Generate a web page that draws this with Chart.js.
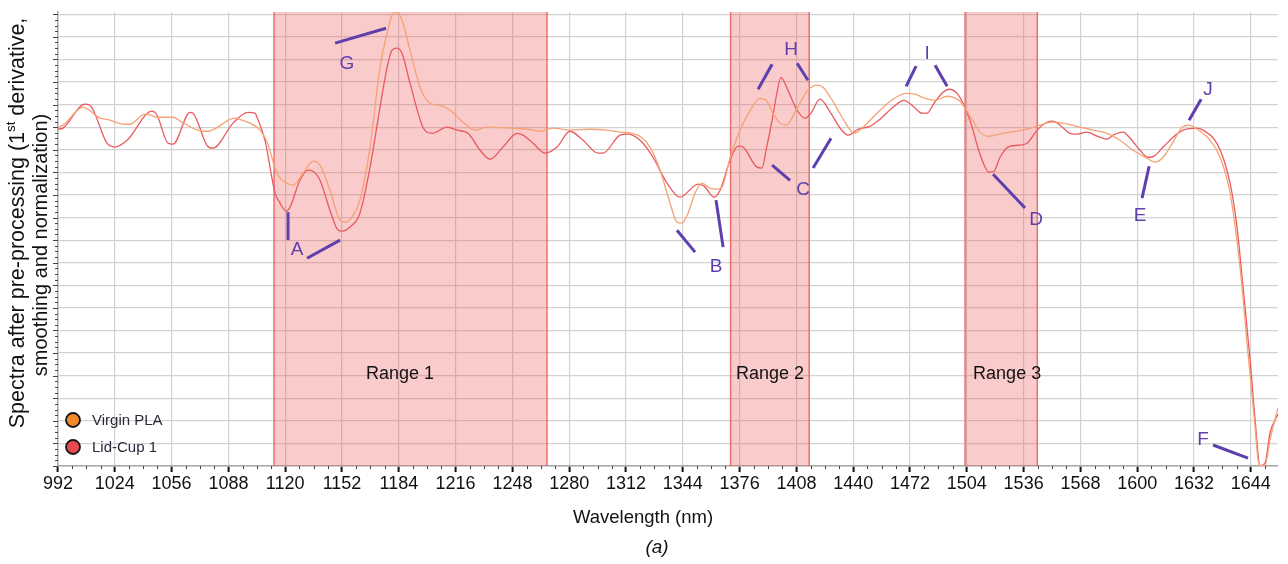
<!DOCTYPE html>
<html><head><meta charset="utf-8">
<script src="https://cdn.jsdelivr.net/npm/chart.js@4.4.1/dist/chart.umd.min.js"></script>
<style>html,body{margin:0;padding:0;background:#fff}#wrap{width:1288px;height:564px;position:relative}</style>
</head><body><div id="wrap"><canvas id="c" width="1288" height="564"></canvas></div>
<script>
// ---- data (wavelength in nm, signal in arbitrary grid units) ----
const xTickValues = [992,1024,1056,1088,1120,1152,1184,1216,1248,1280,1312,1344,1376,1408,1440,1472,1504,1536,1568,1600,1632,1664];
const xTickLabels = ['992','1024','1056','1088','1120','1152','1184','1216','1248','1280','1312','1344','1376','1408','1440','1472','1504','1536','1568','1600','1632','1644'];

const seriesNames = ['Virgin PLA','Lid-Cup 1'];

const virginX = [992,994.8,1006.1,1015.7,1019.6,1029.7,1032.6,1039.3,1042.1,1047.8,1056.8,1061.9,1073.7,1076.5,1088.9,1091.7,1095.7,1105.8,1109.8,1115.4,1121.0,1124.4,1130.0,1135.7,1139.6,1145.2,1150.9,1153.7,1157.6,1162.1,1167.8,1173.4,1177.4,1180.2,1183.0,1186.4,1190.3,1196.0,1201.6,1207.2,1212.9,1220.2,1226.9,1233.7,1246.7,1256.2,1263.6,1270.9,1280.4,1291.7,1301.3,1308.6,1315.4,1319.9,1325.5,1331.2,1336.8,1340.7,1343.6,1346.9,1350.9,1354.8,1359.3,1363.3,1366.1,1370.6,1376.2,1383.0,1387.5,1390.9,1394.8,1398.8,1402.2,1408.9,1414.5,1419.6,1423.0,1429.8,1435.4,1440.5,1446.1,1453.4,1462.4,1469.8,1474.8,1480.5,1486.1,1492.9,1496.2,1500.2,1505.8,1511.5,1516.0,1524.4,1537.9,1545.2,1552.0,1558.2,1567.8,1575.1,1583.0,1590.3,1597.6,1605.5,1610.0,1614.6,1620.2,1625.3,1629.2,1633.7,1641.0,1646.7,1652.3,1657.9,1662.4,1666.4,1668.6,1672.0,1674.8,1679.3];
const virginY = [15.00,15.09,15.88,15.40,15.35,15.13,15.13,15.53,15.58,15.44,15.44,15.22,14.82,14.82,15.35,15.40,15.31,14.87,14.34,12.96,12.52,12.43,12.96,13.50,13.32,12.21,10.88,10.80,11.02,11.77,14.12,17.65,19.16,19.96,20.10,19.60,18.41,16.77,16.06,15.97,15.75,15.22,14.87,15.00,14.96,14.91,14.82,14.96,14.87,14.91,14.87,14.78,14.73,14.60,14.12,13.10,11.64,10.80,10.75,11.19,12.08,12.52,12.30,12.26,12.35,13.63,14.87,15.88,16.28,16.19,15.62,15.18,15.09,15.93,16.64,16.86,16.77,15.97,15.22,14.73,15.04,15.62,16.24,16.50,16.46,16.28,16.19,16.37,16.33,16.15,15.49,14.78,14.60,14.73,14.91,15.09,15.22,15.18,15.00,14.87,14.73,14.42,13.98,13.63,13.45,13.67,14.34,15.00,15.09,14.91,14.42,13.67,12.08,8.81,5.00,1.73,0.02,0.04,1.15,2.57];

const lidX = [992,994.8,1007.2,1010.0,1019.6,1024.1,1030.9,1045.0,1047.8,1054.0,1056.8,1066.4,1068.1,1075.9,1079.3,1090.6,1099.0,1103.0,1104.1,1108.6,1114.3,1117.1,1120.5,1122.7,1128.3,1132.9,1135.7,1139.6,1145.2,1149.8,1152.0,1156.5,1162.1,1167.8,1173.4,1177.4,1180.2,1183.0,1185.8,1190.3,1197.6,1202.7,1211.2,1216.8,1223.0,1229.8,1235.4,1242.7,1250.6,1254.0,1259.6,1266.4,1273.1,1280.4,1287.8,1296.2,1299.1,1308.6,1312.6,1319.9,1327.2,1335.1,1342.4,1352.6,1356.0,1361.6,1365.0,1370.6,1375.1,1377.9,1385.8,1388.6,1390.9,1394.3,1397.1,1399.3,1402.7,1408.4,1412.9,1416.2,1421.3,1426.4,1432.6,1437.1,1442.7,1449.5,1455.1,1462.4,1468.6,1473.7,1478.8,1481.6,1485.5,1490.6,1494.0,1498.5,1502.4,1507.0,1510.3,1514.3,1516.5,1519.3,1522.7,1527.2,1532.8,1537.9,1543.6,1549.2,1552.6,1556.5,1562.1,1566.1,1571.7,1577.4,1583.0,1586.4,1592.0,1596.0,1601.6,1606.1,1609.5,1614.6,1620.2,1625.8,1633.7,1637.1,1643.8,1648.3,1652.3,1656.2,1659.6,1663.6,1666.4,1669.2,1672.0,1674.8,1679.3];
const lidY = [14.91,14.96,16.02,15.97,14.29,14.12,14.42,15.71,15.53,14.29,14.25,15.66,15.62,14.20,14.07,15.18,15.66,15.62,15.44,14.42,12.08,11.64,11.28,11.46,12.65,13.10,13.05,12.65,11.33,10.44,10.40,10.58,11.19,13.23,15.88,17.65,18.41,18.50,18.27,16.95,15.00,14.73,15.00,14.87,14.73,13.98,13.58,14.12,14.73,14.65,14.29,13.85,14.12,14.82,14.42,13.85,13.85,14.65,14.69,14.42,13.67,12.52,11.90,12.48,12.39,11.90,12.21,13.54,14.16,14.12,13.23,13.19,13.98,15.31,16.55,17.21,16.73,15.75,15.40,15.62,16.24,15.75,14.96,14.65,14.91,15.04,15.35,15.88,16.19,15.93,15.62,15.62,16.06,16.55,16.68,16.50,15.97,15.00,14.07,13.23,13.01,13.05,13.67,14.12,14.20,14.29,14.87,15.22,15.27,15.09,14.73,14.69,14.78,14.60,14.47,14.65,14.78,14.51,13.98,13.67,13.72,14.12,14.56,14.87,14.96,14.87,14.42,13.67,12.52,10.58,7.92,4.69,2.04,0.02,0.13,1.46,2.30];

const rangeStart = [1113.7,1370.9,1503.0];
const rangeEnd   = [1267.5,1415.2,1543.7];
const rangeNames = ['Range 1','Range 2','Range 3'];
const rangeLabelX = [1184.7,1393.1,1526.7];
const rangeLabelY = [4.07,4.07,4.07];

// annotation letters and leader segments (data coordinates)
const markLetters = ['G','A','B','C','H','I','D','E','J','F'];
const markLetterX = [1154.8,1126.7,1362.7,1411.7,1405.0,1481.6,1543.0,1601.6,1639.9,1637.1];
const markLetterY = [17.83,9.56,8.81,12.21,18.41,18.23,10.88,11.06,16.64,1.15];
const markSegments = [
  [[1148.1,18.72,1176.8,19.38]],
  [[1121.6,11.24,1121.6,10.0],[1132.3,9.20,1150.9,10.0]],
  [[1340.7,10.44,1350.9,9.47],[1362.7,11.77,1366.7,9.69]],
  [[1394.3,13.32,1404.4,12.65],[1417.4,13.19,1427.5,14.51]],
  [[1386.4,16.68,1394.3,17.79],[1408.4,17.83,1414.5,17.08]],
  [[1469.8,16.81,1475.4,17.70],[1486.1,17.74,1492.9,16.81]],
  [[1518.8,12.92,1536.8,11.42]],
  [[1606.7,13.27,1602.7,11.86]],
  [[1629.2,15.31,1636.0,16.24]],
  [[1642.7,0.93,1662.4,0.35]]
];

const X_MIN = 992, X_MAX = 1679.3, Y_MIN = 0, Y_MAX = 20.1;
const FONT = "'Liberation Sans', Arial, sans-serif";
const PURPLE = '#5e3fae';
const lineColors = ['#f5a274','#e95a5e'];
const legendFill = ['#f28a2c','#ea4a4f'];

const toPts = (xs, ys) => xs.map((x,i)=>({x, y: ys[i]}));

const decor = {
  id: 'decor',
  beforeDatasetsDraw(chart) {
    const {ctx, chartArea: a, scales: {x}} = chart;
    ctx.save();
    for (let i=0;i<rangeStart.length;i++){
      const x0 = x.getPixelForValue(rangeStart[i]), x1 = x.getPixelForValue(rangeEnd[i]);
      ctx.fillStyle = 'rgba(236,82,82,0.30)';
      ctx.fillRect(x0, a.top, x1-x0, a.bottom-a.top);
      ctx.strokeStyle = 'rgba(236,90,90,0.85)';
      ctx.lineWidth = 1.5;
      ctx.beginPath();
      ctx.moveTo(x0, a.top); ctx.lineTo(x0, a.bottom);
      ctx.moveTo(x1, a.top); ctx.lineTo(x1, a.bottom);
      ctx.stroke();
    }
    ctx.restore();
  },
  afterDatasetsDraw(chart) {
    const {ctx, chartArea: a, scales: {x, y}} = chart;
    ctx.save();
    // range labels
    ctx.fillStyle = '#111';
    ctx.font = '18px ' + FONT;
    ctx.textAlign = 'center'; ctx.textBaseline = 'middle';
    rangeNames.forEach((t,i)=> ctx.fillText(t, x.getPixelForValue(rangeLabelX[i]), y.getPixelForValue(rangeLabelY[i])));
    // annotations
    ctx.strokeStyle = PURPLE; ctx.fillStyle = PURPLE; ctx.lineWidth = 3; ctx.lineCap = 'butt';
    markSegments.forEach(segs => segs.forEach(s => {
      ctx.beginPath();
      ctx.moveTo(x.getPixelForValue(s[0]), y.getPixelForValue(s[1]));
      ctx.lineTo(x.getPixelForValue(s[2]), y.getPixelForValue(s[3]));
      ctx.stroke();
    }));
    ctx.font = '19px ' + FONT;
    markLetters.forEach((t,i)=> ctx.fillText(t, x.getPixelForValue(markLetterX[i]), y.getPixelForValue(markLetterY[i])));
    // legend
    ctx.textAlign = 'left';
    ctx.font = '15px ' + FONT;
    seriesNames.forEach((n,i)=>{
      const cx = a.left + 15, cy = a.bottom - 46 + i*27;
      ctx.beginPath(); ctx.arc(cx, cy, 7, 0, Math.PI*2);
      ctx.fillStyle = legendFill[i]; ctx.fill();
      ctx.lineWidth = 1.8; ctx.strokeStyle = '#151515'; ctx.stroke();
      ctx.fillStyle = '#2a2a3a';
      ctx.fillText(n, cx + 19, cy + 1);
    });
    ctx.restore();
  },
  afterDraw(chart) {
    const {ctx, chartArea: a, scales: {x, y}} = chart;
    ctx.save();
    // minor ticks x
    ctx.strokeStyle = '#444'; ctx.lineWidth = 1;
    ctx.beginPath();
    for (let v = X_MIN; v <= X_MAX; v += 8) {
      if ((v - X_MIN) % 32 === 0) continue;
      const px = Math.round(x.getPixelForValue(v)) + 0.5;
      ctx.moveTo(px, a.bottom); ctx.lineTo(px, a.bottom + 3);
    }
    // y ticks
    for (let k = 0; k <= 80; k++) {
      const v = k * 0.25; if (v > Y_MAX) break;
      const py = Math.round(y.getPixelForValue(v)) + 0.5;
      const len = (k % 4 === 0) ? 5 : 3;
      ctx.moveTo(a.left - len, py); ctx.lineTo(a.left, py);
    }
    ctx.stroke();
    // x title
    ctx.fillStyle = '#111';
    ctx.textAlign = 'center'; ctx.textBaseline = 'middle';
    ctx.font = '18.5px ' + FONT;
    ctx.fillText('Wavelength (nm)', 643, 518);
    ctx.font = 'italic 19px ' + FONT;
    ctx.fillText('(a)', 657, 548);
    // y title with superscript
    function rotLine(cx, cy, size, parts) {
      ctx.save();
      ctx.translate(cx, cy); ctx.rotate(-Math.PI/2);
      let w = 0;
      parts.forEach(p => { ctx.font = (p.sup ? size*0.62 : size) + 'px ' + FONT; w += ctx.measureText(p.t).width; });
      let xx = -w/2;
      ctx.textAlign = 'left'; ctx.textBaseline = 'middle';
      parts.forEach(p => {
        ctx.font = (p.sup ? size*0.62 : size) + 'px ' + FONT;
        ctx.fillText(p.t, xx, p.sup ? -size*0.32 : 0);
        xx += ctx.measureText(p.t).width;
      });
      ctx.restore();
    }
    rotLine(18, 223, 21.5, [{t:'Spectra after pre-processing (1'},{t:'st',sup:true},{t:' derivative,'}]);
    rotLine(41, 245, 20, [{t:'smoothing and normalization)'}]);
    ctx.restore();
  }
};

new Chart(document.getElementById('c'), {
  type: 'line',
  data: {
    datasets: [
      {label: seriesNames[0], data: toPts(virginX, virginY), borderColor: lineColors[0], borderWidth: 1.3, pointRadius: 0, cubicInterpolationMode: 'monotone', fill: false},
      {label: seriesNames[1], data: toPts(lidX, lidY), borderColor: lineColors[1], borderWidth: 1.3, pointRadius: 0, cubicInterpolationMode: 'monotone', fill: false}
    ]
  },
  options: {
    responsive: false, animation: false, devicePixelRatio: 1,
    layout: {padding: {left: 58, right: 10, top: 12, bottom: 0}},
    plugins: {legend: {display: false}, tooltip: {enabled: false}},
    scales: {
      x: {
        type: 'linear', min: X_MIN, max: X_MAX,
        afterFit: s => { s.height = 98; },
        afterBuildTicks: s => { s.ticks = xTickValues.map(v => ({value: v})); },
        ticks: {
          autoSkip: false, maxRotation: 0, includeBounds: false, padding: 1,
          color: '#111', font: {family: FONT, size: 18},
          callback: v => { const i = xTickValues.indexOf(v); return i >= 0 ? xTickLabels[i] : ''; }
        },
        grid: {color: '#d2d2d2', lineWidth: 1.2, tickColor: '#111', tickLength: 6, tickWidth: 2},
        border: {display: true, color: '#a8a8a8', width: 1.5}
      },
      y: {
        type: 'linear', min: Y_MIN, max: Y_MAX,
        afterFit: s => { s.width = 0; },
        ticks: {display: false, stepSize: 1, includeBounds: false},
        grid: {color: '#d2d2d2', lineWidth: 1.2, drawTicks: false},
        border: {display: true, color: '#a8a8a8', width: 1.5}
      }
    }
  },
  plugins: [decor]
});
</script>
</body></html>
